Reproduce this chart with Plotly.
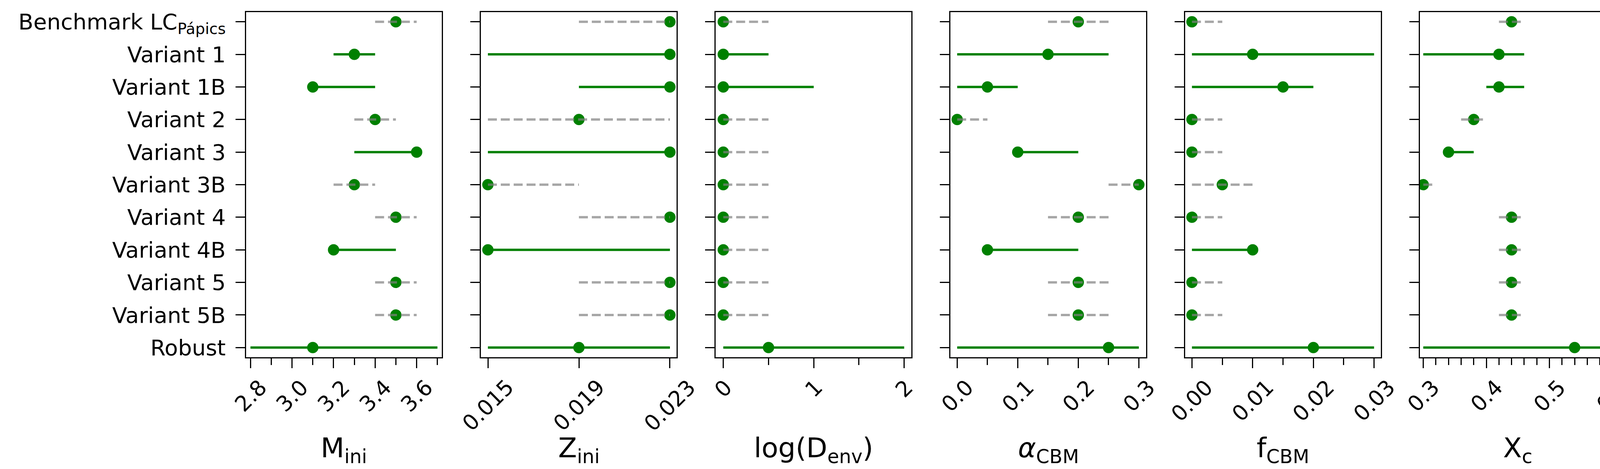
import plotly.graph_objects as go

# Rows (top to bottom)
labels = ["Benchmark LC<sub>Pápics</sub>", "Variant 1", "Variant 1B", "Variant 2", "Variant 3",
          "Variant 3B", "Variant 4", "Variant 4B", "Variant 5", "Variant 5B", "Robust"]

# M_ini
m_best = [3.5, 3.3, 3.1, 3.4, 3.6, 3.3, 3.5, 3.2, 3.5, 3.5, 3.1]
m_lo = [3.4, 3.2, 3.1, 3.3, 3.3, 3.2, 3.4, 3.2, 3.4, 3.4, 2.8]
m_hi = [3.6, 3.4, 3.4, 3.5, 3.6, 3.4, 3.6, 3.5, 3.6, 3.6, 3.7]
m_fit = [0, 1, 1, 0, 1, 0, 0, 1, 0, 0, 1]
m_ticks = [2.8, 3.0, 3.2, 3.4, 3.6]
m_ticktext = ["2.8", "3.0", "3.2", "3.4", "3.6"]

# Z_ini
z_best = [0.023, 0.023, 0.023, 0.019, 0.023, 0.015, 0.023, 0.015, 0.023, 0.023, 0.019]
z_lo = [0.019, 0.015, 0.019, 0.015, 0.015, 0.015, 0.019, 0.015, 0.019, 0.019, 0.015]
z_hi = [0.023, 0.023, 0.023, 0.023, 0.023, 0.019, 0.023, 0.023, 0.023, 0.023, 0.023]
z_fit = [0, 1, 1, 0, 1, 0, 0, 1, 0, 0, 1]
z_ticks = [0.015, 0.019, 0.023]
z_ticktext = ["0.015", "0.019", "0.023"]

# log(D_env)
d_best = [0, 0, 0, 0, 0, 0, 0, 0, 0, 0, 0.5]
d_lo = [0, 0, 0, 0, 0, 0, 0, 0, 0, 0, 0]
d_hi = [0.5, 0.5, 1, 0.5, 0.5, 0.5, 0.5, 0.5, 0.5, 0.5, 2]
d_fit = [0, 1, 1, 0, 0, 0, 0, 0, 0, 0, 1]
d_ticks = [0, 1, 2]
d_ticktext = ["0", "1", "2"]

# alpha_CBM
a_best = [0.2, 0.15, 0.05, 0.0, 0.1, 0.3, 0.2, 0.05, 0.2, 0.2, 0.25]
a_lo = [0.15, 0.0, 0.0, 0.0, 0.1, 0.25, 0.15, 0.05, 0.15, 0.15, 0.0]
a_hi = [0.25, 0.25, 0.1, 0.05, 0.2, 0.3, 0.25, 0.2, 0.25, 0.25, 0.3]
a_fit = [0, 1, 1, 0, 1, 0, 0, 1, 0, 0, 1]
a_ticks = [0.0, 0.1, 0.2, 0.3]
a_ticktext = ["0.0", "0.1", "0.2", "0.3"]

# f_CBM
f_best = [0, 0.01, 0.015, 0, 0, 0.005, 0, 0.01, 0, 0, 0.02]
f_lo = [0, 0, 0, 0, 0, 0, 0, 0, 0, 0, 0]
f_hi = [0.005, 0.03, 0.02, 0.005, 0.005, 0.01, 0.005, 0.01, 0.005, 0.005, 0.03]
f_fit = [0, 1, 1, 0, 0, 0, 0, 1, 0, 0, 1]
f_ticks = [0.0, 0.01, 0.02, 0.03]
f_ticktext = ["0.00", "0.01", "0.02", "0.03"]

# X_c
x_best = [0.44, 0.42, 0.42, 0.38, 0.34, 0.30, 0.44, 0.44, 0.44, 0.44, 0.54]
x_lo = [0.42, 0.30, 0.40, 0.36, 0.34, 0.30, 0.42, 0.42, 0.42, 0.42, 0.30]
x_hi = [0.46, 0.46, 0.46, 0.40, 0.38, 0.32, 0.46, 0.46, 0.46, 0.46, 0.60]
x_fit = [0, 1, 1, 0, 1, 0, 0, 0, 0, 0, 1]
x_ticks = [0.3, 0.4, 0.5, 0.6]
x_ticktext = ["0.3", "0.4", "0.5", "0.6"]

panels = [
    dict(title="M<sub>ini</sub>", best=m_best, lo=m_lo, hi=m_hi, fit=m_fit,
         ticks=m_ticks, text=m_ticktext, minor=0.1, tick0=2.8, rng=[2.779, 3.721]),
    dict(title="Z<sub>ini</sub>", best=z_best, lo=z_lo, hi=z_hi, fit=z_fit,
         ticks=z_ticks, text=z_ticktext, minor=None, tick0=0, rng=[0.014691, 0.023292]),
    dict(title="log(D<sub>env</sub>)", best=d_best, lo=d_lo, hi=d_hi, fit=d_fit,
         ticks=d_ticks, text=d_ticktext, minor=0.5, tick0=0, rng=[-0.0846, 2.079]),
    dict(title="<i>α</i><sub>CBM</sub>", best=a_best, lo=a_lo, hi=a_hi, fit=a_fit,
         ticks=a_ticks, text=a_ticktext, minor=0.05, tick0=0, rng=[-0.0112, 0.312]),
    dict(title="f<sub>CBM</sub>", best=f_best, lo=f_lo, hi=f_hi, fit=f_fit,
         ticks=f_ticks, text=f_ticktext, minor=0.005, tick0=0, rng=[-0.00112, 0.03112]),
    dict(title="X<sub>c</sub>", best=x_best, lo=x_lo, hi=x_hi, fit=x_fit,
         ticks=x_ticks, text=x_ticktext, minor=0.02, tick0=0.3, rng=[0.2947, 0.605]),
]

W, H = 4200, 1200
FONT = "DejaVu Sans"
GREEN = "#008000"
GREY = "rgba(128,128,128,0.7)"
rows = list(range(len(labels)))

fig = go.Figure()
annotations = []
layout_axes = {}

for i, p in enumerate(panels):
    n = "" if i == 0 else str(i + 1)
    xa, ya = "x" + n, "y" + n

    # solid (fitted) ranges
    sx, sy = [], []
    for r in rows:
        if p["fit"][r]:
            sx += [p["lo"][r], p["hi"][r], None]
            sy += [r, r, None]
    fig.add_trace(go.Scatter(x=sx, y=sy, mode="lines", xaxis=xa, yaxis=ya,
                             line=dict(color=GREEN, width=6), showlegend=False, hoverinfo="skip"))

    # best values
    fig.add_trace(go.Scatter(x=p["best"], y=rows, mode="markers", xaxis=xa, yaxis=ya,
                             marker=dict(color=GREEN, size=29, line=dict(width=0)),
                             showlegend=False))

    # dashed (fixed) ranges, one trace each so the dash pattern starts at the left end
    for r in rows:
        if not p["fit"][r]:
            fig.add_trace(go.Scatter(x=[p["lo"][r], p["hi"][r]], y=[r, r], mode="lines",
                                     xaxis=xa, yaxis=ya,
                                     line=dict(color=GREY, width=6, dash="23px,10px"),
                                     showlegend=False, hoverinfo="skip"))

    x0 = 630 + 601 * i
    x1 = x0 + 501
    xaxis = dict(domain=[x0 / W, x1 / W], range=p["rng"], anchor=ya,
                 showgrid=False, zeroline=False, showline=True, mirror=True,
                 linecolor="black", linewidth=3,
                 tickmode="array", tickvals=p["ticks"], showticklabels=False,
                 ticks="outside", ticklen=25, tickwidth=3, tickcolor="black")
    if p["minor"]:
        xaxis["minor"] = dict(dtick=p["minor"], tick0=p["tick0"], ticks="outside",
                              ticklen=17, tickwidth=3, tickcolor="black", showgrid=False)
    yaxis = dict(domain=[(H - 918) / H, (H - 24) / H], range=[10.3, -0.3], anchor=xa,
                 showgrid=False, zeroline=False, showline=True, mirror=True,
                 linecolor="black", linewidth=3,
                 tickmode="array", tickvals=rows, ticktext=labels,
                 showticklabels=(i == 0), ticklabelstandoff=14,
                 ticks="outside", ticklen=24, tickwidth=3, tickcolor="black",
                 tickfont=dict(family=FONT, size=56, color="black"))
    layout_axes["xaxis" + n] = xaxis
    layout_axes["yaxis" + n] = yaxis

    # rotated tick labels, centred on their ticks
    for v, t in zip(p["ticks"], p["text"]):
        annotations.append(dict(x=v, xref=xa, y=(H - 962) / H, yref="paper",
                                text=t, textangle=-45, showarrow=False,
                                xanchor="center", yanchor="top", borderpad=0,
                                font=dict(family=FONT, size=55, color="black")))

    # axis title
    annotations.append(dict(x=(x0 + x1) / 2 / W, xref="paper", y=(H - 1158) / H, yref="paper",
                            text=p["title"], showarrow=False, xanchor="center", yanchor="middle",
                            font=dict(family=FONT, size=70, color="black")))

fig.update_layout(
    width=W, height=H,
    margin=dict(l=0, r=0, t=0, b=0),
    paper_bgcolor="white", plot_bgcolor="white",
    font=dict(family=FONT, color="black"),
    annotations=annotations,
    **layout_axes,
)

# drop the default page margin so the figure sits at the window's corner
fig.write_html("out.html", config={"displayModeBar": False},
               post_script="document.body.style.margin='0';")
